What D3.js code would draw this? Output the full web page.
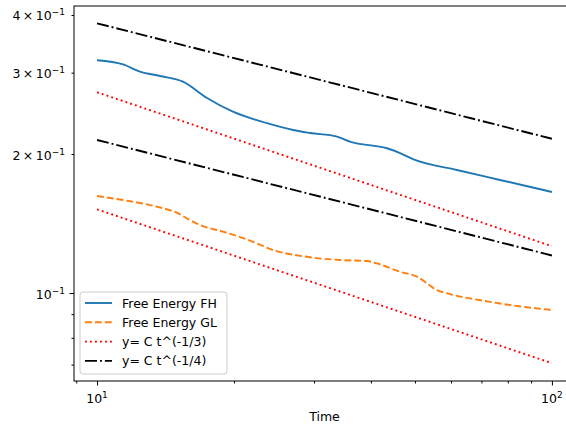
<!DOCTYPE html>
<html lang="en">
<head>
  <meta charset="UTF-8" />
  <title>Free Energy decay</title>
  <script src="https://d3js.org/d3.v7.min.js"></script>
  <style>
    body {
      margin: 0;
      background: white;
      overflow: hidden;
    }
    svg {
      font-family: "DejaVu Sans", sans-serif;
      display: block;
    }
  </style>
</head>
<body>

<svg width="566" height="425"></svg>

<script>
  // data
  const fhTime  = [10, 11.41, 12.43, 13.75, 15.45, 17.45, 19.9, 23.64, 26.97, 29.38, 33.69, 35.97, 43.4, 46.35, 49.5, 61.83, 76.9, 100];
  const fhValue = [0.3192, 0.3126, 0.3015, 0.2951, 0.2869, 0.2645, 0.2470, 0.2332, 0.2254, 0.2221, 0.2181, 0.2127, 0.2058, 0.2010, 0.1949, 0.1847, 0.1757, 0.1655];

  const glTime  = [10, 11.41, 12.88, 13.97, 14.69, 16.01, 16.84, 18.92, 21.36, 24.37, 28.94, 34.2, 39.21, 41.25, 46.35, 50.51, 55.88, 59.69, 73.06, 86.36, 100];
  const glValue = [0.1622, 0.1590, 0.1556, 0.1526, 0.1505, 0.1439, 0.1404, 0.1358, 0.1307, 0.1239, 0.1198, 0.1179, 0.1173, 0.1159, 0.1112, 0.1085, 0.1015, 0.0995, 0.0957, 0.0934, 0.0919];

  // reference power laws, end points
  const lawTime = [10, 100];
  const thirdUpper = [0.2721, 0.1263];
  const thirdLower = [0.1518, 0.0705];
  const quarterUpper = [0.3837, 0.2158];
  const quarterLower = [0.2145, 0.1206];

  const legendLabels = ["Free Energy FH", "Free Energy GL", "y= C t^(-1/3)", "y= C t^(-1/4)"];

  const xMajor = [10, 100];
  const xMinor = [9, 20, 30, 40, 50, 60, 70, 80, 90];
  const yLabelled = [0.1, 0.2, 0.3, 0.4];
  const yMinor = [0.07, 0.08, 0.09];

  const svg = d3.select("svg");
  const fontSize = 12.5;

  const plotLeft = 74, plotRight = 575, plotTop = 6, plotBottom = 381;

  const x = d3.scaleLog().domain([8.9, 112.4]).range([plotLeft, plotRight]);
  const y = d3.scaleLog().domain([0.0645, 0.4183]).range([plotBottom, plotTop]);

  const plot = svg.append("g");

  function series(ts, vs) {
    return ts.map((t, i) => [t, vs[i]]);
  }

  const smooth = d3.line()
    .x(d => x(d[0]))
    .y(d => y(d[1]))
    .curve(d3.curveMonotoneX);

  const straight = d3.line()
    .x(d => x(d[0]))
    .y(d => y(d[1]));

  const styles = [
    { color: "#1f77b4", dash: null },
    { color: "#ff7f0e", dash: "6.9,3" },
    { color: "#ff0000", dash: "1.9,3.1" },
    { color: "#000000", dash: "12,3,1.9,3" }
  ];

  plot.append("path")
    .attr("d", smooth(series(fhTime, fhValue)))
    .attr("fill", "none")
    .attr("stroke", styles[0].color)
    .attr("stroke-width", 1.9);

  plot.append("path")
    .attr("d", smooth(series(glTime, glValue)))
    .attr("fill", "none")
    .attr("stroke", styles[1].color)
    .attr("stroke-width", 1.9)
    .attr("stroke-dasharray", styles[1].dash);

  [thirdUpper, thirdLower].forEach(v => {
    plot.append("path")
      .attr("d", straight(series(lawTime, v)))
      .attr("fill", "none")
      .attr("stroke", styles[2].color)
      .attr("stroke-width", 1.9)
      .attr("stroke-dasharray", styles[2].dash);
  });

  [quarterUpper, quarterLower].forEach(v => {
    plot.append("path")
      .attr("d", straight(series(lawTime, v)))
      .attr("fill", "none")
      .attr("stroke", styles[3].color)
      .attr("stroke-width", 1.9)
      .attr("stroke-dasharray", styles[3].dash);
  });

  // spines
  svg.append("rect")
    .attr("x", plotLeft).attr("y", plotTop)
    .attr("width", plotRight - plotLeft).attr("height", plotBottom - plotTop)
    .attr("fill", "none")
    .attr("stroke", "#000")
    .attr("stroke-width", 1);

  // X axis
  const gx = svg.append("g")
    .attr("transform", `translate(0,${plotBottom})`)
    .call(d3.axisBottom(x).tickValues(xMajor).tickSize(4.5).tickFormat(() => ""));
  gx.select(".domain").remove();

  const gxm = svg.append("g")
    .attr("transform", `translate(0,${plotBottom})`)
    .call(d3.axisBottom(x).tickValues(xMinor).tickSize(2.5).tickFormat(() => ""));
  gxm.select(".domain").remove();

  xMajor.forEach(v => {
    const t = svg.append("text")
      .attr("x", x(v))
      .attr("y", plotBottom + 22)
      .attr("text-anchor", "middle")
      .attr("font-size", fontSize);
    t.append("tspan").text("10");
    t.append("tspan").attr("dy", -5).attr("font-size", 9).text(Math.round(Math.log10(v)));
  });

  svg.append("text")
    .attr("x", (plotLeft + plotRight) / 2)
    .attr("y", 421)
    .attr("text-anchor", "middle")
    .attr("font-size", fontSize)
    .text("Time");

  // Y axis
  const gy = svg.append("g")
    .attr("transform", `translate(${plotLeft},0)`)
    .call(d3.axisLeft(y).tickValues([0.1]).tickSize(4.5).tickFormat(() => ""));
  gy.select(".domain").remove();

  const gym = svg.append("g")
    .attr("transform", `translate(${plotLeft},0)`)
    .call(d3.axisLeft(y).tickValues(yMinor.concat([0.2, 0.3, 0.4])).tickSize(2.5).tickFormat(() => ""));
  gym.select(".domain").remove();

  svg.selectAll(".tick line").attr("stroke", "#000").attr("stroke-width", 1);

  yLabelled.forEach(v => {
    const mant = Math.round(v * 10);
    const t = svg.append("text")
      .attr("x", 65)
      .attr("y", y(v) + 5.5)
      .attr("text-anchor", "end")
      .attr("font-size", fontSize);
    t.append("tspan").text(mant === 1 ? "10" : `${mant}\u2009\u00d7\u200910`);
    t.append("tspan").attr("dy", -5).attr("font-size", 9).text("\u22121");
  });

  // legend
  const lg = svg.append("g");
  lg.append("rect")
    .attr("x", 80).attr("y", 292)
    .attr("width", 147).attr("height", 82)
    .attr("rx", 3)
    .attr("fill", "white").attr("fill-opacity", 0.8)
    .attr("stroke", "#cccccc").attr("stroke-width", 1);

  legendLabels.forEach((label, i) => {
    const cy = 303 + i * 19.3;
    lg.append("line")
      .attr("x1", 85).attr("x2", 112)
      .attr("y1", cy).attr("y2", cy)
      .attr("stroke", styles[i].color)
      .attr("stroke-width", 1.9)
      .attr("stroke-dasharray", styles[i].dash);
    lg.append("text")
      .attr("x", 122)
      .attr("y", cy + 4.5)
      .attr("font-size", fontSize)
      .text(label);
  });
</script>

</body>
</html>
